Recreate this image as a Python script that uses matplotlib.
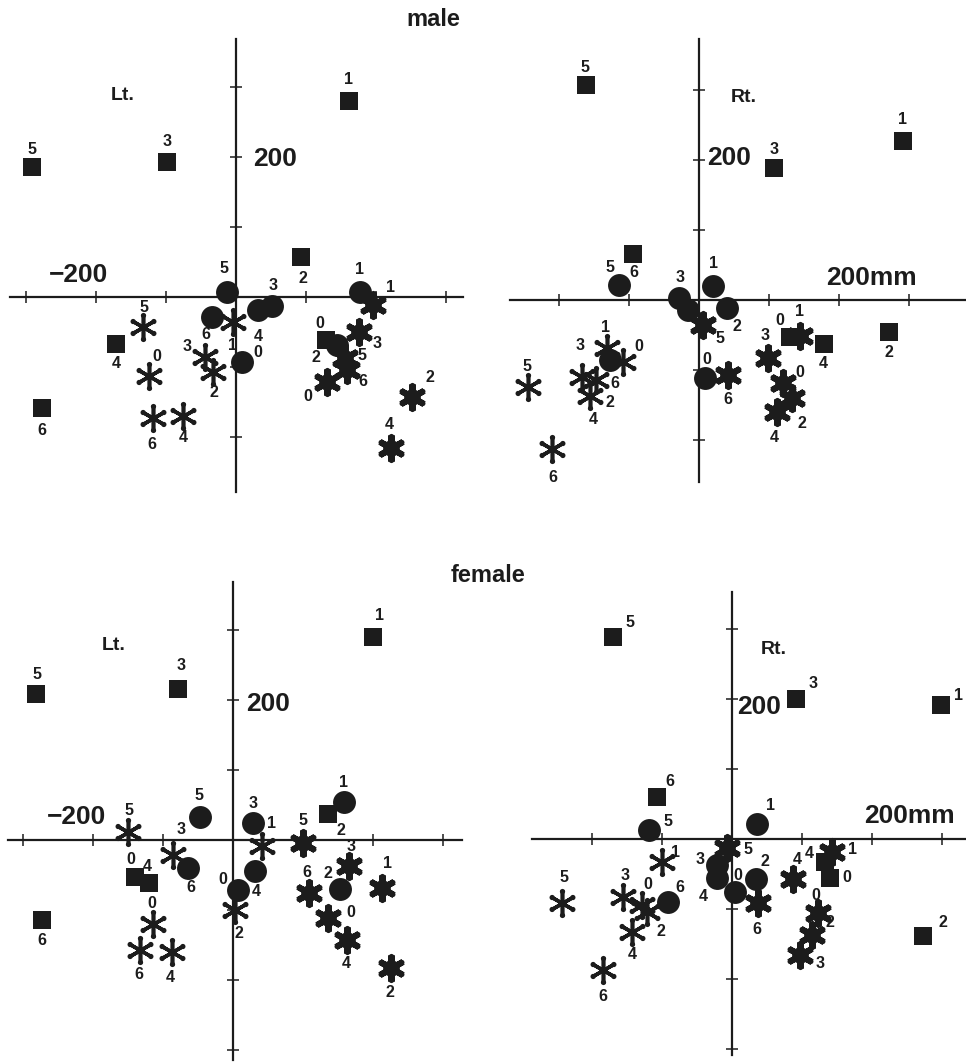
import numpy as np
import matplotlib.pyplot as plt
from matplotlib.markers import MarkerStyle
from matplotlib.path import Path

W, H = 966, 1063
PX_PER_MM = 0.7

ids = ['0', '1', '2', '3', '4', '5', '6']

# ---- male, left side (mm) ----
m_lt_sq_x = [129, 161, 93, -99, -171, -291, -277]
m_lt_sq_y = [-61, 280, 57, 193, -67, 186, -159]
m_lt_ci_x = [9, 177, 144, 51, 31, -13, -34]
m_lt_ci_y = [-93, 7, -69, -13, -19, 7, -29]
m_lt_as_x = [-124, -4, -33, -44, -76, -133, -119]
m_lt_as_y = [-113, -36, -107, -86, -170, -43, -173]
m_lt_ge_x = [130, 196, 251, 176, 221, 156, 159]
m_lt_ge_y = [-121, -11, -143, -50, -216, -87, -104]

# ---- male, right side (mm) ----
m_rt_sq_x = [130, 291, 271, 107, 179, -161, -94]
m_rt_sq_y = [-53, 227, -46, 189, -63, 307, 66]
m_rt_ci_x = [9, 20, 40, -29, -16, -114, -127]
m_rt_ci_y = [-111, 20, -11, 3, -14, 21, -86]
m_rt_as_x = [-109, -131, -147, -167, -156, -244, -210]
m_rt_as_y = [-89, -69, -114, -110, -137, -124, -213]
m_rt_ge_x = [120, 144, 133, 99, 111, 6, 41]
m_rt_ge_y = [-119, -51, -140, -83, -160, -36, -107]

# ---- female, left side (mm) ----
f_lt_sq_x = [-140, 200, 136, -79, -120, -281, -273]
f_lt_sq_y = [-53, 290, 37, 216, -61, 209, -114]
f_lt_ci_x = [7, 159, 153, 29, 31, -47, -64]
f_lt_ci_y = [-71, 54, -70, 24, -44, 33, -40]
f_lt_as_x = [-114, 41, 3, -86, -87, -150, -133]
f_lt_as_y = [-120, -9, -100, -21, -160, 11, -157]
f_lt_ge_x = [136, 213, 226, 166, 163, 100, 109]
f_lt_ge_y = [-111, -69, -183, -37, -143, -4, -76]

# ---- female, right side (mm) ----
f_rt_sq_x = [140, 299, 273, 91, 133, -170, -107]
f_rt_sq_y = [-56, 191, -139, 200, -33, 289, 60]
f_rt_ci_x = [4, 36, 34, -21, -21, -119, -91]
f_rt_ci_y = [-76, 21, -57, -37, -56, 13, -90]
f_rt_as_x = [-129, -100, -121, -156, -143, -243, -184]
f_rt_as_y = [-94, -33, -104, -83, -133, -91, -187]
f_rt_ge_x = [123, 143, 114, 97, 87, -7, 37]
f_rt_ge_y = [-106, -19, -137, -166, -57, -13, -91]

# label offsets in pixels (dx right, dy down); None = no label
m_lt_off = {
    'sq': [(-6, -16), (0, -21), (2, 21), (0, -20), (0, 20), (0, -17), (0, 22)],
    'ci': [(16, -10), (0, -23), (-21, 12), (1, -21), (1, 26), (-3, -24), (-6, 17)],
    'as': [(8, -20), (-1, 23), (1, 21), (-18, -11), (0, 22), (1, -20), (-1, 26)],
    'ge': [(-19, 15), (17, -17), (18, -20), (18, 11), (-1, -24), (17, -2), (16, 12)],
}
m_rt_off = {
    'sq': [(-10, -17), (0, -22), (0, 20), (0, -18), (-1, 19), (-1, -18), (1, 19)],
    'ci': [(2, -18), (0, -23), (10, 19), (1, -20), None, (-9, -18), (5, 23)],
    'as': [(16, -16), (-2, -21), (14, 23), (-2, -32), (3, 24), (-1, -20), (1, 28)],
    'ge': [(17, -11), (0, -24), (10, 25), (-3, -23), (-2, 25), (17, 13), (0, 25)],
}
f_lt_off = {
    'sq': [(-4, -18), (6, -22), (13, 16), (3, -23), (-2, -16), (1, -19), (0, 21)],
    'ci': [(-15, -10), (-1, -20), (-12, -16), (0, -20), (2, 21), (-1, -21), (3, 20)],
    'as': [(-1, -21), (10, -23), (4, 24), (8, -25), (-2, 26), (1, -22), (-1, 25)],
    'ge': [(23, -5), (5, -25), (-1, 24), (2, -19), (-1, 23), (0, -22), (-2, -21)],
}
f_rt_off = {
    'sq': [(17, -1), (17, -10), (20, -14), (17, -16), (-16, -9), (17, -14), (13, -15)],
    'ci': [(3, -17), (13, -19), (9, -17), (-17, -5), (-14, 18), (19, -8), (12, -15)],
    'as': [(6, -20), (13, -10), (14, 20), (2, -22), (0, 22), (2, -25), (0, 27)],
    'ge': [(-2, -18), (20, -3), (18, -12), (20, 8), (4, -19), (21, 1), (-1, 27)],
}

INK = '#1c1c1c'
FONT = 'Liberation Sans'


def tip_dots(n=6, radius=0.82, dot=0.18):
    # small round blobs sitting on the ends of the asterisk arms
    paths = []
    for k in range(n):
        a = np.pi / 2 + 2 * np.pi * k / n
        paths.append(Path.circle((radius * np.cos(a), radius * np.sin(a)), dot))
    return Path.make_compound_path(*paths)


AST = MarkerStyle((6, 2, 0), capstyle='round')
STAR = MarkerStyle((6, 1, 0))
DOTS = MarkerStyle(tip_dots())


def make_axes(fig, box, origin, xb, yb, xticks, yticks):
    x0, y0, x1, y1 = box
    ox, oy = origin
    ax = fig.add_axes([x0 / W, 1 - y1 / H, (x1 - x0) / W, (y1 - y0) / H])
    ax.set_xlim((x0 - ox) / PX_PER_MM, (x1 - ox) / PX_PER_MM)
    ax.set_ylim((oy - y1) / PX_PER_MM, (oy - y0) / PX_PER_MM)
    ax.patch.set_visible(False)
    for side in ['top', 'right']:
        ax.spines[side].set_visible(False)
    ax.spines['left'].set_position(('data', 0))
    ax.spines['bottom'].set_position(('data', 0))
    ax.spines['left'].set_bounds(*yb)
    ax.spines['bottom'].set_bounds(*xb)
    for side in ['left', 'bottom']:
        ax.spines[side].set_linewidth(1.6)
        ax.spines[side].set_color(INK)
    ax.set_xticks(xticks)
    ax.set_yticks(yticks)
    ax.set_xticklabels([])
    ax.set_yticklabels([])
    ax.tick_params(direction='inout', length=9, width=1.1, color=INK)
    return ax


def draw_points(ax, x, y, kind, offsets):
    kw = dict(ls='none', color=INK, clip_on=False)
    if kind == 'sq':
        ax.plot(x, y, 's', ms=12.5, mew=0, zorder=4, **kw)
    elif kind == 'ci':
        ax.plot(x, y, 'o', ms=16.5, mew=0, zorder=4, **kw)
    elif kind == 'as':
        ax.plot(x, y, marker=AST, ms=19, mew=2.6, zorder=5, **kw)
        ax.plot(x, y, marker=DOTS, ms=21, mew=0, zorder=5, **kw)
    else:
        ax.plot(x, y, marker=STAR, ms=19, mew=0, zorder=5, **kw)
        ax.plot(x, y, marker='o', ms=12, mew=0, zorder=5, **kw)
        ax.plot(x, y, marker=AST, ms=19, mew=4.4, zorder=5, **kw)
        ax.plot(x, y, marker=DOTS, ms=21, mew=0, zorder=5, **kw)
    for xi, yi, lab, off in zip(x, y, ids, offsets):
        if off is None:
            continue
        ax.annotate(lab, (xi, yi), xytext=(off[0], -off[1]), textcoords='offset pixels',
                    ha='center', va='center', fontsize=11.5, fontweight='bold',
                    family=FONT, color=INK, zorder=6, annotation_clip=False)


def fig_text(fig, x, y, s, size):
    fig.text(x / W, 1 - y / H, s, ha='center', va='center', fontsize=size,
             fontweight='bold', family=FONT, color=INK)


fig = plt.figure(figsize=(W / 100, H / 100), dpi=100)

panels = [
    dict(box=(0, 30, 480, 500), origin=(236, 297), xb=(-323, 324), yb=(-279, 369),
         xt=[-300, -200, -100, 100, 200, 300], yt=[-200, -100, 100, 200, 300],
         data={'sq': (m_lt_sq_x, m_lt_sq_y), 'ci': (m_lt_ci_x, m_lt_ci_y),
               'as': (m_lt_as_x, m_lt_as_y), 'ge': (m_lt_ge_x, m_lt_ge_y)}, off=m_lt_off),
    dict(box=(490, 30, 966, 500), origin=(699, 300), xb=(-270, 381), yb=(-260, 373),
         xt=[-200, -100, 100, 200, 300], yt=[-200, -100, 100, 200, 300],
         data={'sq': (m_rt_sq_x, m_rt_sq_y), 'ci': (m_rt_ci_x, m_rt_ci_y),
               'as': (m_rt_as_x, m_rt_as_y), 'ge': (m_rt_ge_x, m_rt_ge_y)}, off=m_rt_off),
    dict(box=(0, 575, 480, 1063), origin=(233, 840), xb=(-321, 327), yb=(-314, 369),
         xt=[-300, -200, -100, 100, 200, 300], yt=[-300, -200, -100, 100, 200, 300],
         data={'sq': (f_lt_sq_x, f_lt_sq_y), 'ci': (f_lt_ci_x, f_lt_ci_y),
               'as': (f_lt_as_x, f_lt_as_y), 'ge': (f_lt_ge_x, f_lt_ge_y)}, off=f_lt_off),
    dict(box=(490, 575, 966, 1063), origin=(732, 839), xb=(-286, 334), yb=(-309, 353),
         xt=[-200, -100, 100, 200, 300], yt=[-300, -200, -100, 100, 200, 300],
         data={'sq': (f_rt_sq_x, f_rt_sq_y), 'ci': (f_rt_ci_x, f_rt_ci_y),
               'as': (f_rt_as_x, f_rt_as_y), 'ge': (f_rt_ge_x, f_rt_ge_y)}, off=f_rt_off),
]

for p in panels:
    ax = make_axes(fig, p['box'], p['origin'], p['xb'], p['yb'], p['xt'], p['yt'])
    for kind in ['sq', 'ci', 'as', 'ge']:
        x, y = p['data'][kind]
        draw_points(ax, x, y, kind, p['off'][kind])

# titles and axis annotations
fig_text(fig, 433, 19, 'male', 17)
fig_text(fig, 488, 575, 'female', 17)
fig_text(fig, 123, 96, 'Lt.', 14)
fig_text(fig, 114, 645, 'Lt.', 14)
fig_text(fig, 744, 97, 'Rt.', 14)
fig_text(fig, 774, 649, 'Rt.', 14)
fig_text(fig, 275, 159, '200', 19)
fig_text(fig, 79, 275, '\u2212200', 19)
fig_text(fig, 729, 158, '200', 19)
fig_text(fig, 871, 278, '200mm', 19)
fig_text(fig, 268, 704, '200', 19)
fig_text(fig, 77, 817, '\u2212200', 19)
fig_text(fig, 759, 707, '200', 19)
fig_text(fig, 909, 816, '200mm', 19)

fig.savefig('out.png', dpi=100)
